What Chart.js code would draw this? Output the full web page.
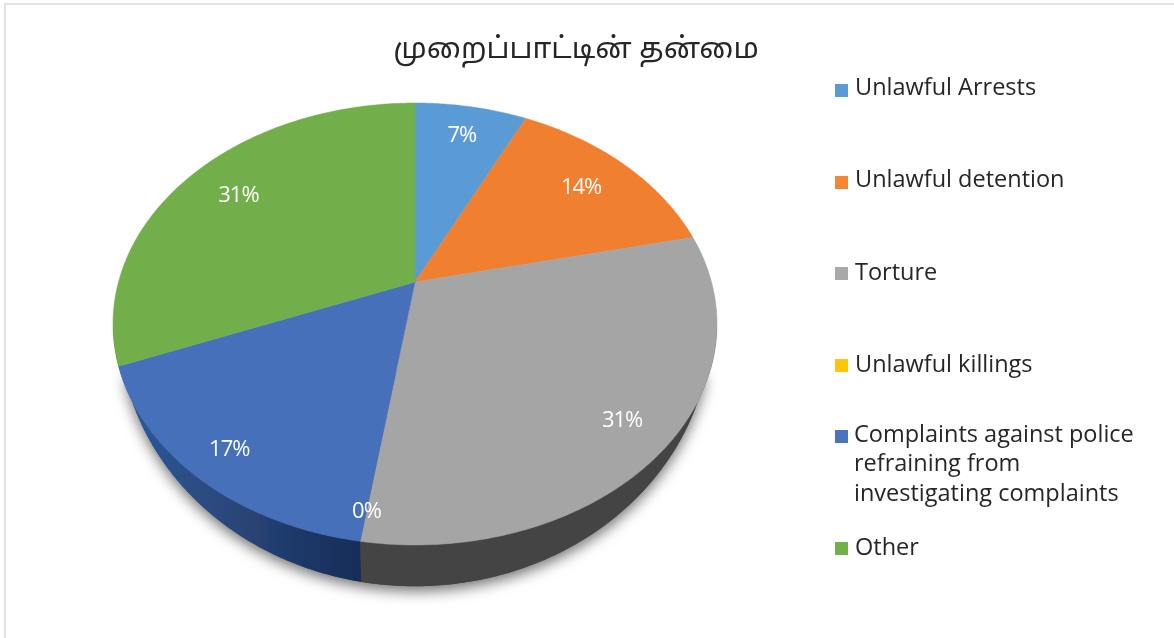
<!DOCTYPE html>
<html><head><meta charset="utf-8">
<style>html,body{margin:0;padding:0;background:#fff}canvas{display:block}</style>
<script src="https://cdn.jsdelivr.net/npm/chart.js@4"></script>
</head><body><canvas id="c" width="1174" height="638"></canvas>
<script>
const TITLE = 'முறைப்பாட்டின் தன்மை';
const categories = ['Unlawful Arrests','Unlawful detention','Torture','Unlawful killings','Complaints against police refraining from investigating complaints','Other'];
const values = [7.2,14.3,30.9,0,16.6,31];
const colors = ['#5B9BD5','#F17F30','#A5A5A5','#FFC000','#4670B9','#72AE4A'];
const legendColors = ['#5B9BD5','#F58634','#A9A9A9','#FFC40C','#4A74BC','#72B04A'];
const labelRadius = [.81,.78,.85,.905,.875,.78];
const legendY = [88,180,273,365,435,548];
const squareY = [84,176,267,359,430,542];
const FONT_LEGEND = '23.5px "Open Sans"';
const FONT_TITLE = '29.5px "Noto Sans","Noto Sans Tamil","Latha","Liberation Sans",sans-serif';
const FONT_LABEL = '22px "Open Sans"';

// perspective projection of the pie's unit circle on to the page
const V = {cx:415,cy:282,c:296.5,a:213,k:-0.19};
function project(angle,r){
  const u=r*Math.cos(angle), v=r*Math.sin(angle), d=1+V.k*v;
  return [V.cx+V.c*u/d, V.cy+V.a*v/d];
}
function lower(p){ return [415+(p[0]-415)*0.98, 323+(p[1]-323)*1.186]; }
function samples(a0,a1){
  const n=Math.max(2,Math.ceil(Math.abs(a1-a0)/0.01)), out=[];
  for(let i=0;i<=n;i++) out.push(project(a0+(a1-a0)*i/n,1));
  return out;
}
function trace(ctx,pts,start){ pts.forEach((p,i)=>(i||!start)?ctx.lineTo(p[0],p[1]):ctx.moveTo(p[0],p[1])); }

const pie3d = {
  id:'pie3d',
  beforeDraw(chart){
    const ctx=chart.ctx; ctx.save();
    ctx.strokeStyle='#E2E2E2'; ctx.lineWidth=2;
    ctx.beginPath(); ctx.moveTo(5,638); ctx.lineTo(5,4); ctx.lineTo(1174,4); ctx.stroke();
    ctx.restore();
  },
  beforeDatasetDraw(chart,args){
    const ctx=chart.ctx, arcs=chart.getDatasetMeta(args.index).data;
    const ring=samples(0,Math.PI*2);
    // soft shadow from the lower rim only, so it fades out under the top face
    ctx.save();
    ctx.shadowColor='rgba(0,0,0,0.55)'; ctx.shadowBlur=14; ctx.shadowOffsetX=0; ctx.shadowOffsetY=5;
    ctx.fillStyle='#555';
    ctx.beginPath(); trace(ctx,ring.map(lower).filter(p=>p[1]>372),true); ctx.closePath(); ctx.fill();
    ctx.restore();
    // side wall
    ctx.save();
    ctx.beginPath(); ctx.rect(0,324,1174,314); ctx.clip();
    const blueWall=ctx.createLinearGradient(133,0,361,0);
    blueWall.addColorStop(0,'#2B5797'); blueWall.addColorStop(.55,'#2A4272'); blueWall.addColorStop(.62,'#1F3D70'); blueWall.addColorStop(1,'#172D58');
    const walls=['#3A6C9E','#A5561F','#444444','#444444',blueWall,'#2B5797'];
    arcs.forEach((el,i)=>{
      if(el.endAngle-el.startAngle<=0) return;
      const top=samples(el.startAngle,el.endAngle);
      ctx.beginPath(); trace(ctx,top,true); trace(ctx,top.map(lower).reverse(),false); ctx.closePath();
      ctx.fillStyle=walls[i]; ctx.fill();
    });
    ctx.restore();
    // top faces
    arcs.forEach((el,i)=>{
      if(el.endAngle-el.startAngle<=0) return;
      ctx.beginPath(); ctx.moveTo(V.cx,V.cy); trace(ctx,samples(el.startAngle,el.endAngle),false); ctx.closePath();
      ctx.fillStyle=colors[i]; ctx.fill();
      ctx.strokeStyle=colors[i]; ctx.lineWidth=.5; ctx.stroke();
    });
    return false;
  },
  afterDatasetsDraw(chart){
    const ctx=chart.ctx, arcs=chart.getDatasetMeta(0).data;
    ctx.save();
    ctx.textBaseline='middle'; ctx.textAlign='center';
    // data labels
    ctx.fillStyle='#fff'; ctx.font=FONT_LABEL; ctx.letterSpacing='-1px';
    arcs.forEach((el,i)=>{
      const p=project((el.startAngle+el.endAngle)/2,labelRadius[i]);
      ctx.fillText(Math.round(values[i])+'%',p[0],p[1]);
    });
    ctx.letterSpacing='0px';
    // title
    ctx.fillStyle='#262626'; ctx.font=FONT_TITLE;
    ctx.fillText(TITLE,576,50);
    // legend
    ctx.textAlign='left'; ctx.font=FONT_LEGEND;
    categories.forEach((name,i)=>{
      const lines=[]; let cur='';
      name.split(' ').forEach(w=>{
        const t=cur?cur+' '+w:w;
        if(ctx.measureText(t).width>292&&cur){lines.push(cur);cur=w;} else cur=t;
      });
      lines.push(cur);
      ctx.fillStyle=legendColors[i];
      ctx.fillRect(835,squareY[i],13,13);
      ctx.fillStyle='#262626';
      lines.forEach((l,j)=>ctx.fillText(l,lines.length>1?854:855,legendY[i]+j*29.5));
    });
    ctx.restore();
  }
};

new Chart(document.getElementById('c'),{
  type:'pie',
  data:{labels:categories,datasets:[{data:values,backgroundColor:colors,borderWidth:0}]},
  options:{
    responsive:false,animation:false,
    layout:{padding:{left:194,right:538,top:61,bottom:135}},
    plugins:{legend:{display:false},title:{display:false},tooltip:{enabled:false}}
  },
  plugins:[pie3d]
});
</script></body></html>
